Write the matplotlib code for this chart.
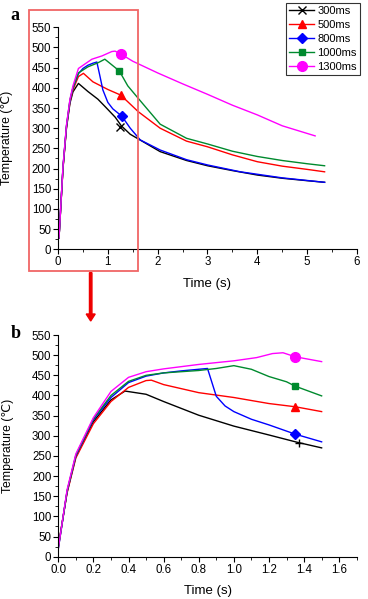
import matplotlib
matplotlib.use("Agg")
import matplotlib.pyplot as plt
from matplotlib.patches import Rectangle, FancyArrow
from matplotlib.ticker import MultipleLocator, FormatStrFormatter

plt.rcParams['font.family'] = ['Liberation Sans', 'DejaVu Sans']

labels = ["300ms", "500ms", "800ms", "1000ms", "1300ms"]
colors = ["black", "#ff0000", "#0000ff", "#008a2e", "#ff00ff"]
markers = ["x", "^", "D", "s", "o"]
marker_sizes = [6, 6, 5, 5, 7]

# panel a: full time range
t_300 = [0.02, 0.1, 0.17, 0.24, 0.3, 0.41, 0.6, 0.8, 0.95, 1.15, 1.27, 1.45, 2.05, 2.58, 3.0, 3.5, 4.0, 4.5, 5.0, 5.35]
T_300 = [28, 200, 300, 362, 390, 411, 391, 372, 353, 327, 306, 285, 242, 220, 207, 195, 184, 176, 170, 166]
t_500 = [0.02, 0.1, 0.17, 0.24, 0.3, 0.41, 0.51, 0.7, 1.0, 1.26, 1.61, 2.05, 2.58, 3.0, 3.5, 4.0, 4.5, 5.0, 5.35]
T_500 = [28, 200, 302, 365, 395, 428, 436, 415, 396, 382, 341, 300, 268, 254, 234, 217, 206, 198, 192]
t_800 = [0.02, 0.1, 0.17, 0.24, 0.3, 0.41, 0.5, 0.6, 0.7, 0.78, 0.84, 0.9, 1.0, 1.1, 1.28, 1.45, 1.65, 2.05, 2.58, 3.0, 3.66, 4.5, 5.35]
T_800 = [28, 203, 305, 368, 400, 435, 448, 456, 461, 464, 430, 395, 364, 348, 330, 300, 271, 246, 222, 209, 192, 177, 166]
t_1000 = [0.02, 0.1, 0.17, 0.24, 0.3, 0.41, 0.6, 0.8, 0.94, 1.08, 1.23, 1.4, 1.61, 2.05, 2.58, 3.0, 3.5, 4.0, 4.5, 5.0, 5.35]
T_1000 = [28, 203, 305, 370, 400, 437, 452, 462, 471, 457, 442, 405, 374, 310, 275, 261, 243, 230, 220, 212, 207]
t_1300 = [0.02, 0.1, 0.17, 0.24, 0.3, 0.41, 0.68, 0.88, 1.08, 1.145, 1.26, 1.5, 2.0, 2.5, 3.0, 3.5, 4.0, 4.5, 5.16]
T_1300 = [28, 205, 308, 372, 405, 448, 471, 479, 490, 491, 484, 466, 437, 410, 384, 357, 333, 306, 281]
mark_t_a = [1.25, 1.26, 1.28, 1.23, 1.26]
mark_T_a = [304, 383, 330, 442, 484]

# panel b: first 1.5 s
zt_300 = [0.0, 0.05, 0.1, 0.2, 0.3, 0.38, 0.5, 0.6, 0.8, 1.0, 1.2, 1.36, 1.5]
zT_300 = [25, 160, 248, 335, 389, 411, 403, 385, 351, 324, 302, 284, 270]
zt_500 = [0.0, 0.05, 0.1, 0.2, 0.3, 0.4, 0.5, 0.53, 0.6, 0.8, 1.0, 1.2, 1.35, 1.5]
zT_500 = [25, 158, 245, 330, 385, 420, 437, 438, 427, 407, 395, 380, 372, 360]
zt_800 = [0.0, 0.05, 0.1, 0.2, 0.3, 0.4, 0.5, 0.6, 0.7, 0.8, 0.85, 0.9, 0.95, 1.0, 1.1, 1.2, 1.35, 1.5]
zT_800 = [20, 162, 250, 340, 395, 432, 448, 456, 461, 465, 467, 398, 374, 360, 341, 327, 304, 285]
zt_1000 = [0.0, 0.05, 0.1, 0.2, 0.3, 0.4, 0.5, 0.6, 0.8, 0.9, 1.0, 1.1, 1.2, 1.3, 1.35, 1.5]
zT_1000 = [20, 163, 252, 342, 400, 435, 450, 456, 462, 467, 474, 465, 447, 434, 423, 399]
zt_1300 = [0.0, 0.05, 0.1, 0.2, 0.3, 0.4, 0.5, 0.6, 0.8, 1.0, 1.13, 1.22, 1.28, 1.35, 1.5]
zT_1300 = [20, 166, 255, 345, 410, 445, 459, 466, 477, 486, 494, 504, 506, 496, 484]
mark_t_b = [1.37, 1.35, 1.35, 1.35, 1.35]
mark_T_b = [282, 372, 304, 423, 496]

full = [(t_300, T_300), (t_500, T_500), (t_800, T_800), (t_1000, T_1000), (t_1300, T_1300)]
zoom = [(zt_300, zT_300), (zt_500, zT_500), (zt_800, zT_800), (zt_1000, zT_1000), (zt_1300, zT_1300)]

fig = plt.figure(figsize=(3.68, 5.99), dpi=100)
ax1 = fig.add_axes([0.1576, 0.5838, 0.8125, 0.3706])
ax2 = fig.add_axes([0.1584, 0.0706, 0.8110, 0.3701])


def style(ax, xmax, xmaj, xmin):
    ax.set_ylim(0, 550)
    ax.set_xlim(0, xmax)
    ax.yaxis.set_major_locator(MultipleLocator(50))
    ax.yaxis.set_minor_locator(MultipleLocator(25))
    ax.xaxis.set_major_locator(MultipleLocator(xmaj))
    ax.xaxis.set_minor_locator(MultipleLocator(xmin))
    for s in ["top", "right"]:
        ax.spines[s].set_visible(False)
    for s in ["left", "bottom"]:
        ax.spines[s].set_linewidth(0.8)
    ax.tick_params(which="major", direction="out", length=3.5, width=0.8, labelsize=8.3, pad=1.5)
    ax.tick_params(which="minor", direction="out", length=2, width=0.6)
    ax.set_xlabel("Time (s)", fontsize=9.5, labelpad=7)
    ax.set_ylabel("Temperature (℃)", fontsize=8.8)
    ax.yaxis.set_label_coords(-0.15, 0.5)


for i, (t, T) in enumerate(full):
    ax1.plot(t, T, color=colors[i], lw=1)
    ax1.plot(mark_t_a[i], mark_T_a[i], marker=markers[i], color=colors[i], ms=marker_sizes[i], ls="none")
    ax1.plot([], [], color=colors[i], lw=1, marker=markers[i], ms=marker_sizes[i], label=labels[i])
style(ax1, 6, 1, 0.5)

for i, (t, T) in enumerate(zoom):
    ax2.plot(t, T, color=colors[i], lw=1)
    mk = "+" if markers[i] == "x" else markers[i]
    ax2.plot(mark_t_b[i], mark_T_b[i], marker=mk, color=colors[i], ms=marker_sizes[i], ls="none")
style(ax2, 1.7, 0.2, 0.1)
ax2.set_xticks([0.0, 0.2, 0.4, 0.6, 0.8, 1.0, 1.2, 1.4, 1.6])
ax2.xaxis.set_major_formatter(FormatStrFormatter("%.1f"))

leg = fig.legend(loc="upper right", bbox_to_anchor=(360 / 368, 1 - 3 / 599), fontsize=8,
                 frameon=True, fancybox=False, edgecolor="black", handlelength=2.2,
                 handletextpad=0.3, borderpad=0.3, labelspacing=0.35, borderaxespad=0)
leg.get_frame().set_linewidth(0.8)

fig.text(15 / 368, 1 - 16 / 599, "a", fontsize=13, fontweight="bold", family="Liberation Serif",
         ha="center", va="center")
fig.text(16 / 368, 1 - 333 / 599, "b", fontsize=13, fontweight="bold", family="Liberation Serif",
         ha="center", va="center")

fig.patches.append(Rectangle((29 / 368, 1 - 270.7 / 599), (138.3 - 29) / 368, (270.7 - 10) / 599,
                             transform=fig.transFigure, fill=False, edgecolor="#f06666", lw=1.3))
fig.patches.append(FancyArrow(90.7 / 368, 1 - 272.7 / 599, 0, -(321 - 272.7) / 599,
                              width=4 / 599, head_width=9 / 368, head_length=7 / 599,
                              length_includes_head=True, transform=fig.transFigure,
                              color="#ee0000"))

fig.savefig("out.png", dpi=100)
